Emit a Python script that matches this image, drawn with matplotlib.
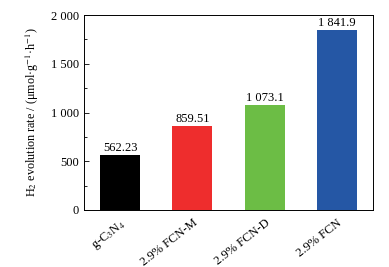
import matplotlib
matplotlib.use("Agg")
import matplotlib.pyplot as plt
from matplotlib.ticker import MultipleLocator, FixedLocator

categories = ["g-C$_3$N$_4$", "2.9% FCN-M", "2.9% FCN-D", "2.9% FCN"]
values = [562.23, 859.51, 1073.1, 1841.9]
value_labels = ["562.23", "859.51", "1 073.1", "1 841.9"]
colors = ["#000000", "#EE2D2D", "#6CBD45", "#2557A5"]
yticks = [0, 500, 1000, 1500, 2000]
ytick_labels = ["0", "500", "1 000", "1 500", "2 000"]

plt.rcParams['font.family'] = ['Liberation Serif', 'DejaVu Serif']
plt.rcParams['mathtext.fontset'] = 'stix'

fig = plt.figure(figsize=(3.89, 2.67), dpi=100)
ax = fig.add_axes([84/389, 1-210/267, (373-84)/389, (210-15)/267])

x = list(range(len(categories)))
bars = ax.bar(x, values, width=0.556, color=colors)
for xi, v, lab in zip(x, values, value_labels):
    ax.text(xi, v + 15, lab, ha='center', va='bottom', fontsize=9)

ax.set_xlim(-0.5, 3.5)
ax.set_ylim(0, 2000)
ax.yaxis.set_major_locator(FixedLocator(yticks))
ax.set_yticklabels(ytick_labels, fontsize=9)
ax.yaxis.set_minor_locator(MultipleLocator(250))
ax.tick_params(axis='y', which='both', direction='in', right=False)
ax.tick_params(axis='y', which='major', length=3.5, width=0.6)
ax.tick_params(axis='y', which='minor', length=2, width=0.6)
ax.set_xticks(x)
ax.set_xticklabels(categories, rotation=38, ha='right', rotation_mode='anchor', fontsize=9)
ax.tick_params(axis='x', length=0, pad=5)
for s in ax.spines.values():
    s.set_linewidth(0.7)

ax.set_ylabel("H$_2$ evolution rate / (μmol·g$^{-1}$·h$^{-1}$)", fontsize=8.7, labelpad=7)

fig.savefig("out.png", dpi=100)
